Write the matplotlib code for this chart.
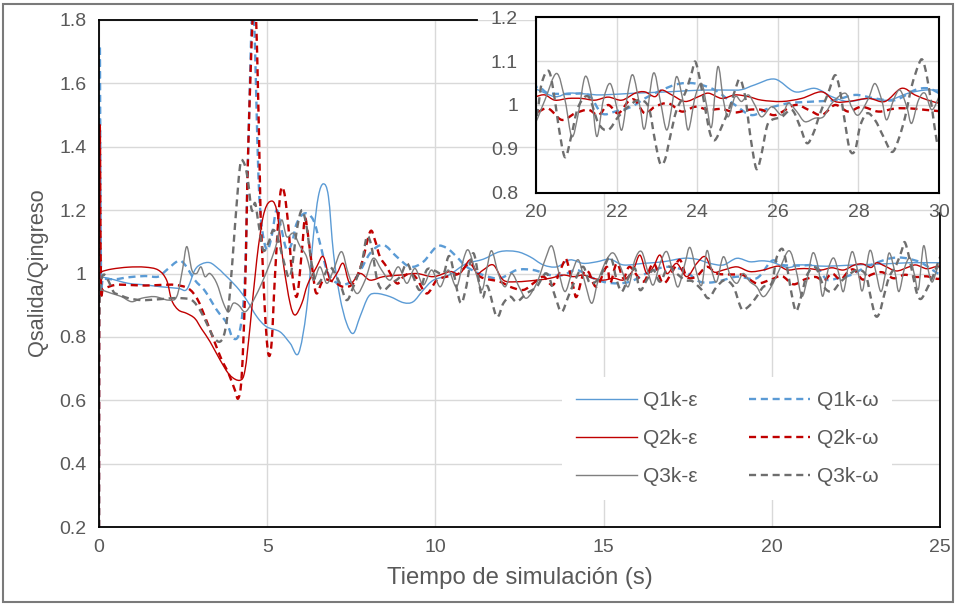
import matplotlib
matplotlib.use('Agg')
import matplotlib.pyplot as plt
from matplotlib.patches import Rectangle, PathPatch
from matplotlib.path import Path
from matplotlib.lines import Line2D

# ---------------- data ----------------
t_q1ke = [0.0, 0.28, 0.87, 1.37, 1.86, 2.36, 2.61, 2.85, 3.05, 3.30, 3.55, 3.70, 4.09, 4.39, 4.69, 4.98,
          5.38, 5.68, 5.93, 6.17, 6.37, 6.52, 6.67, 6.82, 6.97, 7.16, 7.36, 7.56, 7.76, 8.01, 8.25, 8.65,
          9.05, 9.34, 9.64, 9.94, 10.4, 10.9, 11.42, 11.92, 12.42, 12.81, 13.21, 13.61, 14.0, 14.4, 14.8,
          15.19, 15.59, 16.18, 16.77, 17.37, 17.77, 18.16, 18.56, 18.96, 19.35, 19.7, 20.0, 20.47, 20.8,
          21.26, 21.63, 22.46, 23.28, 24.11, 24.77, 25.1, 25.43, 25.93, 26.43, 26.92, 27.34, 27.75, 28.25,
          28.74, 29.24, 29.65, 30.0]
v_q1ke = [0.99, 0.985, 0.969, 0.964, 0.958, 0.953, 0.95, 1.011, 1.03, 1.034, 1.015, 1.0, 0.958, 0.916, 0.864, 0.832,
          0.816, 0.78, 0.748, 0.885, 1.116, 1.243, 1.283, 1.243, 1.064, 0.927, 0.843, 0.811, 0.864, 0.927, 0.937, 0.927,
          0.908, 0.911, 0.948, 0.979, 0.995, 1.03, 1.045, 1.069, 1.069, 1.053, 1.027, 1.021, 1.043, 1.032, 1.037,
          1.045, 1.027, 1.032, 1.037, 1.048, 1.045, 1.032, 1.027, 1.048, 1.037, 1.04, 1.036, 1.019, 1.027,
          1.025, 1.023, 1.027, 1.03, 1.034, 1.034, 1.035, 1.046, 1.059, 1.03, 1.038, 1.019, 1.008, 1.015,
          1.011, 1.027, 1.034, 1.034]

t_q1kw = [0.0, 0.02, 0.06, 0.13, 0.48, 0.87, 1.37, 1.76, 2.01, 2.36, 2.56, 2.85, 3.15, 3.5, 3.8, 3.99, 4.19,
          4.34, 4.44, 4.58, 4.74, 4.84, 4.99, 5.13, 5.28, 5.43, 5.58, 5.73, 5.88, 6.12, 6.37, 6.57, 6.77,
          6.96, 7.26, 7.66, 8.06, 8.45, 8.85, 9.25, 9.64, 10.04, 10.34, 10.63, 10.93, 11.42, 11.92, 12.42,
          12.91, 13.41, 13.8, 14.2, 14.69, 15.19, 15.78, 16.38, 16.88, 17.37, 17.87, 18.36, 18.96, 19.55,
          20.0, 20.3, 20.8, 21.3, 21.63, 21.96, 22.37, 22.7, 23.12, 23.53, 23.95, 24.44, 24.94, 25.35,
          25.76, 26.26, 26.92, 27.42, 27.92, 28.41, 28.91, 29.4, 29.73, 30.0]
v_q1kw = [0.2, 1.72, 1.0, 0.985, 0.982, 0.988, 0.992, 0.99, 1.011, 1.04, 1.027, 0.979, 0.945, 0.885, 0.843, 0.795, 0.821,
          0.99, 1.41, 1.85, 1.306, 1.148, 1.074, 1.116, 1.2, 1.137, 1.074, 1.095, 1.159, 1.19, 1.169, 1.095, 1.011,
          0.979, 0.964, 0.99, 1.064, 1.09, 1.053, 1.021, 1.037, 1.085, 1.08, 1.053, 1.021, 0.995, 0.985, 1.011,
          1.011, 0.995, 0.995, 1.011, 0.985, 0.97, 0.974, 1.006, 1.021, 1.011, 0.974, 0.974, 0.99, 0.985,
          1.04, 1.027, 1.025, 1.023, 0.981, 0.985, 0.996, 1.015, 1.034, 1.048, 1.049, 1.034, 1.0, 0.977,
          0.992, 1.004, 1.008, 1.011, 1.023, 1.015, 1.011, 1.034, 1.038, 1.027]

t_q2ke = [0.0, 0.08, 0.38, 0.87, 1.37, 1.76, 2.01, 2.16, 2.36, 2.61, 2.85, 3.05, 3.3, 3.6, 3.89, 4.19, 4.34,
          4.49, 4.69, 4.88, 5.08, 5.28, 5.48, 5.68, 5.83, 6.03, 6.2, 6.47, 6.67, 6.87, 7.07, 7.26, 7.46,
          7.76, 8.06, 8.45, 8.95, 9.44, 9.94, 10.43, 10.73, 11.03, 11.23, 11.42, 11.72, 12.02, 12.42, 13.01,
          13.41, 13.8, 14.1, 14.4, 14.69, 14.99, 15.3, 15.6, 15.88, 16.08, 16.28, 16.48, 16.68, 16.88, 17.17,
          17.47, 17.77, 18.02, 18.26, 18.56, 18.96, 19.35, 19.75, 20.0, 20.22, 20.47, 20.8, 21.13, 21.46,
          21.79, 22.13, 22.46, 22.7, 22.95, 23.12, 23.37, 23.7, 24.03, 24.28, 24.61, 24.94, 25.27, 25.6,
          26.1, 26.59, 27.09, 27.42, 27.75, 28.25, 28.66, 29.07, 29.4, 29.73, 30.0]
v_q2ke = [1.0, 1.006, 1.014, 1.02, 1.02, 1.011, 0.979, 0.916, 0.885, 0.874, 0.858, 0.825, 0.785, 0.727, 0.679, 0.663, 0.695,
          0.832, 1.043, 1.18, 1.227, 1.2, 1.032, 0.906, 0.869, 0.906, 0.965, 1.021, 1.053, 0.979, 1.0, 1.032, 0.969,
          1.0, 0.979, 0.99, 0.995, 1.0, 0.99, 1.006, 1.0, 1.043, 1.0, 1.011, 1.027, 0.979, 0.974, 0.979,
          0.985, 0.995, 0.99, 0.995, 0.985, 0.979, 0.985, 0.98, 1.011, 1.058, 1.0, 1.021, 1.058, 1.0, 1.032,
          0.99, 1.032, 1.053, 1.006, 1.011, 1.021, 1.006, 1.011, 1.019, 1.023, 1.011, 1.015, 1.015, 1.011,
          1.018, 1.011, 1.027, 1.03, 1.019, 1.034, 1.023, 1.008, 1.019, 1.027, 1.015, 1.023, 1.019, 1.011,
          1.008, 1.015, 1.03, 1.008, 1.008, 1.015, 1.008, 1.038, 1.023, 1.011, 1.004]

t_q2kw = [0.0, 0.02, 0.06, 0.13, 0.48, 0.87, 1.37, 1.86, 2.26, 2.65, 2.92, 3.18, 3.45, 3.65, 3.85, 4.04, 4.14,
          4.24, 4.34, 4.44, 4.6, 4.7, 4.8, 4.84, 4.93, 5.03, 5.13, 5.23, 5.38, 5.5, 5.63, 5.73, 5.88, 6.03,
          6.12, 6.22, 6.37, 6.47, 6.67, 6.97, 7.26, 7.56, 7.81, 8.06, 8.2, 8.35, 8.55, 8.85, 9.05, 9.25,
          9.44, 9.74, 10.04, 10.34, 10.7, 11.03, 11.33, 11.92, 12.22, 12.61, 12.91, 13.21, 13.5, 13.8, 13.9,
          14.1, 14.2, 14.4, 14.55, 14.79, 15.09, 15.2, 15.39, 15.59, 15.78, 16.18, 16.48, 16.77, 17.07, 17.27,
          17.47, 17.75, 18.07, 18.36, 18.75, 19.15, 19.55, 19.98, 20.3, 20.64, 20.97, 21.3, 21.55, 21.79,
          22.04, 22.29, 22.46, 22.7, 22.95, 23.28, 23.62, 23.95, 24.28, 24.61, 24.94, 25.27, 25.6, 25.93,
          26.43, 26.76, 27.09, 27.42, 27.75, 28.08, 28.5, 28.91, 29.32, 29.65, 30.0]
v_q2kw = [0.2, 1.45, 0.96, 0.953, 0.964, 0.964, 0.962, 0.964, 0.964, 0.953, 0.92, 0.855, 0.78, 0.727, 0.685, 0.632, 0.606,
          0.674, 0.937, 1.41, 1.87, 1.7, 1.2, 1.095, 0.885, 0.748, 0.78, 0.99, 1.243, 1.258, 1.148, 1.011, 0.927, 1.07,
          1.174, 1.116, 0.99, 0.937, 0.979, 0.974, 0.958, 0.969, 1.032, 1.132, 1.106, 1.053, 1.021, 0.969, 0.99, 1.0,
          0.985, 0.937, 0.979, 0.99, 1.0, 1.032, 0.99, 0.974, 0.958, 0.948, 0.969, 0.99, 0.964, 1.032, 1.043,
          0.958, 0.927, 1.0, 1.005, 0.958, 1.021, 0.97, 1.032, 0.985, 1.021, 0.974, 1.032, 0.969, 1.011, 1.043,
          0.99, 0.99, 1.021, 1.0, 0.997, 0.995, 0.969, 0.981, 0.992, 0.966, 0.981, 0.989, 0.977, 1.0,
          0.981, 1.008, 1.011, 0.981, 0.996, 1.004, 0.985, 0.996, 0.989, 0.991, 0.983, 0.989, 0.989, 0.977,
          1.0, 0.989, 0.977, 1.0, 0.985, 0.996, 0.985, 0.992, 0.992, 0.989, 0.986]

t_q3ke = [0.0, 0.08, 0.38, 0.67, 0.97, 1.27, 1.66, 2.06, 2.31, 2.48, 2.61, 2.76, 2.9, 3.03, 3.15, 3.3, 3.5,
          3.7, 3.85, 3.99, 4.15, 4.34, 4.54, 4.79, 5.08, 5.28, 5.43, 5.58, 5.78, 5.98, 6.17, 6.37, 6.57,
          6.77, 6.97, 7.21, 7.41, 7.66, 7.91, 8.15, 8.4, 8.65, 8.9, 9.15, 9.39, 9.64, 9.89, 10.14, 10.38,
          10.63, 10.83, 10.98, 11.18, 11.38, 11.52, 11.67, 11.87, 12.07, 12.27, 12.51, 12.71, 13.01, 13.26,
          13.46, 13.65, 13.85, 14.05, 14.25, 14.45, 14.65, 14.84, 15.09, 15.3, 15.54, 15.73, 15.93, 16.13,
          16.33, 16.48, 16.68, 16.88, 17.07, 17.22, 17.42, 17.57, 17.77, 17.92, 18.07, 18.21, 18.36, 18.56,
          18.76, 18.96, 19.15, 19.35, 19.55, 19.75, 19.98, 20.22, 20.51, 20.72, 20.89, 21.05, 21.22, 21.38,
          21.51, 21.67, 21.84, 22.0, 22.13, 22.29, 22.41, 22.58, 22.7, 22.91, 23.08, 23.24, 23.37, 23.49,
          23.66, 23.78, 23.95, 24.11, 24.24, 24.36, 24.51, 24.65, 24.77, 24.94, 25.1, 25.27, 25.43, 25.6,
          25.85, 26.1, 26.26, 26.47, 26.67, 26.92, 27.13, 27.34, 27.67, 27.83, 28.0, 28.25, 28.41, 28.58,
          28.7, 28.87, 29.03, 29.2, 29.32, 29.49, 29.65, 29.82, 30.0]
v_q3ke = [0.95, 0.948, 0.937, 0.927, 0.911, 0.922, 0.927, 0.916, 0.927, 1.011, 1.085, 1.011, 1.0, 1.021, 0.99, 1.0, 0.969,
          0.906, 0.879, 0.906, 0.9, 0.879, 0.906, 0.958, 1.032, 1.095, 1.169, 1.116, 1.127, 1.085, 1.053, 0.979, 1.021,
          0.969, 1.011, 1.069, 1.0, 0.937, 0.979, 1.048, 1.011, 0.979, 1.021, 0.969, 1.016, 0.964, 1.011, 0.958, 1.011,
          0.958, 1.043, 1.074, 1.011, 0.948, 1.011, 1.072, 1.0, 0.958, 1.0, 0.953, 0.922, 0.969, 1.043,
          1.087, 1.011, 0.943, 1.0, 1.043, 0.969, 0.906, 0.979, 1.043, 1.064, 1.011, 0.958, 1.043, 1.069,
          1.0, 0.964, 1.032, 1.069, 1.0, 0.958, 1.032, 1.082, 1.0, 0.964, 1.072, 1.011, 0.974, 1.053,
          0.995, 0.969, 1.0, 0.974, 0.958, 0.927, 0.958, 1.011, 1.072, 1.011, 0.928, 0.981, 1.065, 1.019,
          0.928, 1.011, 1.049, 0.996, 0.943, 1.034, 1.068, 0.996, 0.947, 1.072, 1.011, 0.943, 0.996, 1.065,
          1.004, 0.943, 1.019, 1.049, 0.996, 0.951, 1.087, 1.011, 0.973, 1.019, 1.008, 1.023, 1.0, 0.973,
          0.996, 0.977, 1.004, 0.985, 0.962, 0.97, 0.973, 1.004, 1.027, 0.996, 0.977, 1.015, 1.049, 1.011,
          0.966, 1.011, 1.034, 0.996, 0.958, 1.011, 1.027, 0.989, 1.019]

t_q3kw = [0.0, 0.03, 0.48, 0.87, 1.27, 1.7, 2.16, 2.46, 2.76, 3.0, 3.2, 3.4, 3.6, 3.75, 3.89, 4.04, 4.19, 4.29,
          4.41, 4.54, 4.64, 4.74, 4.88, 5.03, 5.18, 5.33, 5.48, 5.68, 5.88, 6.03, 6.17, 6.32, 6.47, 6.67,
          6.87, 7.16, 7.36, 7.56, 7.81, 7.96, 8.1, 8.27, 8.45, 8.7, 8.95, 9.15, 9.34, 9.54, 9.74, 9.95,
          10.24, 10.43, 10.73, 10.9, 11.13, 11.38, 11.55, 11.82, 12.02, 12.22, 12.42, 12.71, 13.01, 13.31,
          13.56, 13.75, 13.95, 14.2, 14.4, 14.6, 14.9, 15.19, 15.39, 15.54, 15.73, 15.93, 16.08, 16.28,
          16.48, 16.68, 16.92, 17.17, 17.42, 17.65, 17.92, 18.12, 18.36, 18.61, 18.86, 19.05, 19.15, 19.35,
          19.55, 19.75, 20.0, 20.14, 20.31, 20.43, 20.55, 20.68, 20.76, 20.89, 21.05, 21.3, 21.55, 21.79,
          22.04, 22.29, 22.54, 22.79, 22.95, 23.08, 23.2, 23.33, 23.49, 23.7, 23.86, 23.95, 24.07, 24.19,
          24.32, 24.44, 24.61, 24.81, 24.94, 25.06, 25.19, 25.31, 25.43, 25.5, 25.6, 25.73, 25.85, 26.1,
          26.35, 26.55, 26.72, 26.88, 27.05, 27.25, 27.42, 27.54, 27.67, 27.79, 27.92, 28.04, 28.21, 28.41,
          28.62, 28.83, 28.99, 29.16, 29.32, 29.49, 29.59, 29.7, 29.82, 29.94, 30.0]
v_q3kw = [0.2, 0.943, 0.937, 0.922, 0.916, 0.918, 0.922, 0.922, 0.916, 0.885, 0.843, 0.8, 0.785, 0.821, 0.937, 1.148, 1.337, 1.353,
          1.306, 1.2, 1.222, 1.159, 1.074, 1.095, 1.137, 1.106, 1.043, 0.99, 1.137, 1.2, 1.148, 1.032, 0.969, 0.99,
          1.021, 0.969, 0.916, 0.958, 1.032, 1.116, 1.085, 0.979, 0.948, 0.969, 0.99, 1.032, 0.99, 0.948, 1.011, 1.01,
          1.0, 1.053, 0.911, 0.95, 1.064, 0.927, 0.96, 0.864, 0.906, 0.927, 0.911, 0.937, 0.958, 1.0,
          0.927, 0.879, 0.927, 0.99, 1.021, 0.969, 0.99, 1.053, 0.979, 0.943, 0.985, 1.016, 0.948, 0.979,
          1.011, 0.974, 1.021, 1.0, 0.979, 0.975, 0.948, 0.922, 0.958, 0.979, 0.958, 0.9, 0.885, 0.9,
          0.927, 0.958, 0.97, 1.049, 1.078, 1.034, 0.958, 0.89, 0.886, 0.935, 0.996, 1.019, 0.958, 0.943,
          0.973, 0.996, 1.011, 0.996, 0.92, 0.867, 0.875, 0.928, 0.989, 1.027, 1.072, 1.099, 1.057, 0.996,
          0.935, 0.92, 0.951, 0.996, 1.034, 1.059, 1.019, 0.935, 0.867, 0.855, 0.89, 0.951, 0.966, 0.973,
          0.989, 0.951, 0.913, 0.935, 0.981, 1.027, 1.068, 1.034, 0.958, 0.897, 0.897, 0.951, 0.981, 0.966,
          0.928, 0.893, 0.92, 0.973, 1.042, 1.091, 1.103, 1.065, 0.996, 0.92, 0.91]

labels = ['Q1k-ε', 'Q1k-ω', 'Q2k-ε', 'Q2k-ω', 'Q3k-ε', 'Q3k-ω']
main_xticks = [0, 5, 10, 15, 20, 25]
main_yticks = [0.2, 0.4, 0.6, 0.8, 1.0, 1.2, 1.4, 1.6, 1.8]
main_yticklabels = ['0.2', '0.4', '0.6', '0.8', '1', '1.2', '1.4', '1.6', '1.8']
inset_xticks = [20, 22, 24, 26, 28, 30]
inset_yticks = [0.8, 0.9, 1.0, 1.1, 1.2]
inset_yticklabels = ['0.8', '0.9', '1', '1.1', '1.2']
xlabel = 'Tiempo de simulación (s)'
ylabel = 'Qsalida/Qingreso'

# ---------------- style ----------------
plt.rcParams['font.family'] = ['Liberation Sans', 'DejaVu Sans']

BLUE, RED, GREY, GREYD = '#5B9BD5', '#C00000', '#7F7F7F', '#6E6E6E'
TXT = '#595959'
GRID = '#D9D9D9'
series = [
    (t_q1ke, v_q1ke, BLUE, '-'), (t_q1kw, v_q1kw, BLUE, '--'),
    (t_q2ke, v_q2ke, RED, '-'), (t_q2kw, v_q2kw, RED, '--'),
    (t_q3ke, v_q3ke, GREY, '-'), (t_q3kw, v_q3kw, GREYD, '--'),
]
LW_S, LW_D, DASH = 1.0, 1.7, (0, (3.0, 2.0))


def smooth_path(t, v):
    """Smoothed (Excel-like) Bezier path passing through every data point."""
    n = len(t)
    verts = [(t[0], v[0])]
    codes = [Path.MOVETO]
    for i in range(n - 1):
        a = max(i - 1, 0)
        b = min(i + 2, n - 1)
        c1 = (t[i] + (t[i + 1] - t[a]) / 6.0, v[i] + (v[i + 1] - v[a]) / 6.0)
        c2 = (t[i + 1] - (t[b] - t[i]) / 6.0, v[i + 1] - (v[b] - v[i]) / 6.0)
        verts += [c1, c2, (t[i + 1], v[i + 1])]
        codes += [Path.CURVE4] * 3
    return Path(verts, codes)


def draw(a):
    for (t, v, c, ls) in series:
        p = PathPatch(smooth_path(t, v), fill=False, edgecolor=c,
                      lw=LW_S if ls == '-' else LW_D,
                      linestyle='solid' if ls == '-' else DASH,
                      joinstyle='round', capstyle='butt')
        a.add_patch(p)


W, H = 956, 604
fig = plt.figure(figsize=(W / 100, H / 100), dpi=100)
fig.patch.set_facecolor('white')

ax = fig.add_axes([99 / W, 77 / H, 841 / W, 507 / H])
draw(ax)
ax.set_xlim(0, 25)
ax.set_ylim(0.2, 1.8)
ax.set_xticks(main_xticks)
ax.set_xticklabels([str(x) for x in main_xticks])
ax.set_yticks(main_yticks)
ax.set_yticklabels(main_yticklabels)
ax.grid(True, color=GRID, lw=1.0)
ax.set_axisbelow(True)
ax.tick_params(length=0, labelsize=14, labelcolor=TXT)
ax.tick_params(axis='x', pad=9)
ax.tick_params(axis='y', pad=9)
for s in ['top', 'right']:
    ax.spines[s].set_visible(False)
for s in ['left', 'bottom']:
    ax.spines[s].set_color('#000000')
    ax.spines[s].set_linewidth(1.3)
# partial top/right frame (the inset's area hides the rest)
ax.plot([0, (477 - 99) / 841], [1, 1], transform=ax.transAxes, color='#000000', lw=1.3, clip_on=False)
ax.plot([1, 1], [0, (527 - 213) / 507], transform=ax.transAxes, color='#000000', lw=1.3, clip_on=False)

# legend (proxy handles; columns are filled first with ncol=2)
proxies = [Line2D([], [], color=c, lw=LW_S if ls == '-' else LW_D,
                  linestyle='-' if ls == '-' else DASH) for (_, _, c, ls) in series]
order = [0, 2, 4, 1, 3, 5]
leg = ax.legend([proxies[i] for i in order], [labels[i] for i in order], ncol=2,
                loc='center', bbox_to_anchor=(0.7467, 0.1746), fontsize=15,
                frameon=True, facecolor='white', edgecolor='none', framealpha=1,
                handlelength=2.95, handletextpad=0.3, columnspacing=2.45,
                labelspacing=0.92, borderpad=0.65, fancybox=False)
for tx in leg.get_texts():
    tx.set_color(TXT)

# inset
ins = fig.add_axes([536 / W, (H - 192.7) / H, 403 / W, 175.4 / H])
ins.set_facecolor('white')
draw(ins)
ins.set_xlim(20, 30)
ins.set_ylim(0.8, 1.2)
ins.set_xticks(inset_xticks)
ins.set_xticklabels([str(x) for x in inset_xticks])
ins.set_yticks(inset_yticks)
ins.set_yticklabels(inset_yticklabels)
ins.grid(True, color=GRID, lw=1.0)
ins.set_axisbelow(True)
ins.tick_params(length=0, labelsize=14, labelcolor=TXT)
ins.tick_params(axis='x', pad=8)
ins.tick_params(axis='y', pad=13)
for s in ins.spines.values():
    s.set_color('#000000')
    s.set_linewidth(1.5)

# axis titles
fig.text(38 / W, (H - 272) / H, ylabel, rotation=90, ha='center', va='center', fontsize=15.7, color=TXT)
fig.text(520 / W, (H - 578) / H, xlabel, ha='center', va='center', fontsize=17.2, color=TXT)

# outer chart border
fig.patches.append(Rectangle((2.5 / W, 2.5 / H), 950 / W, 598 / H, transform=fig.transFigure,
                             fill=False, edgecolor='#7A7A7A', lw=1.5))

fig.savefig('out.png', dpi=100, facecolor='white')
